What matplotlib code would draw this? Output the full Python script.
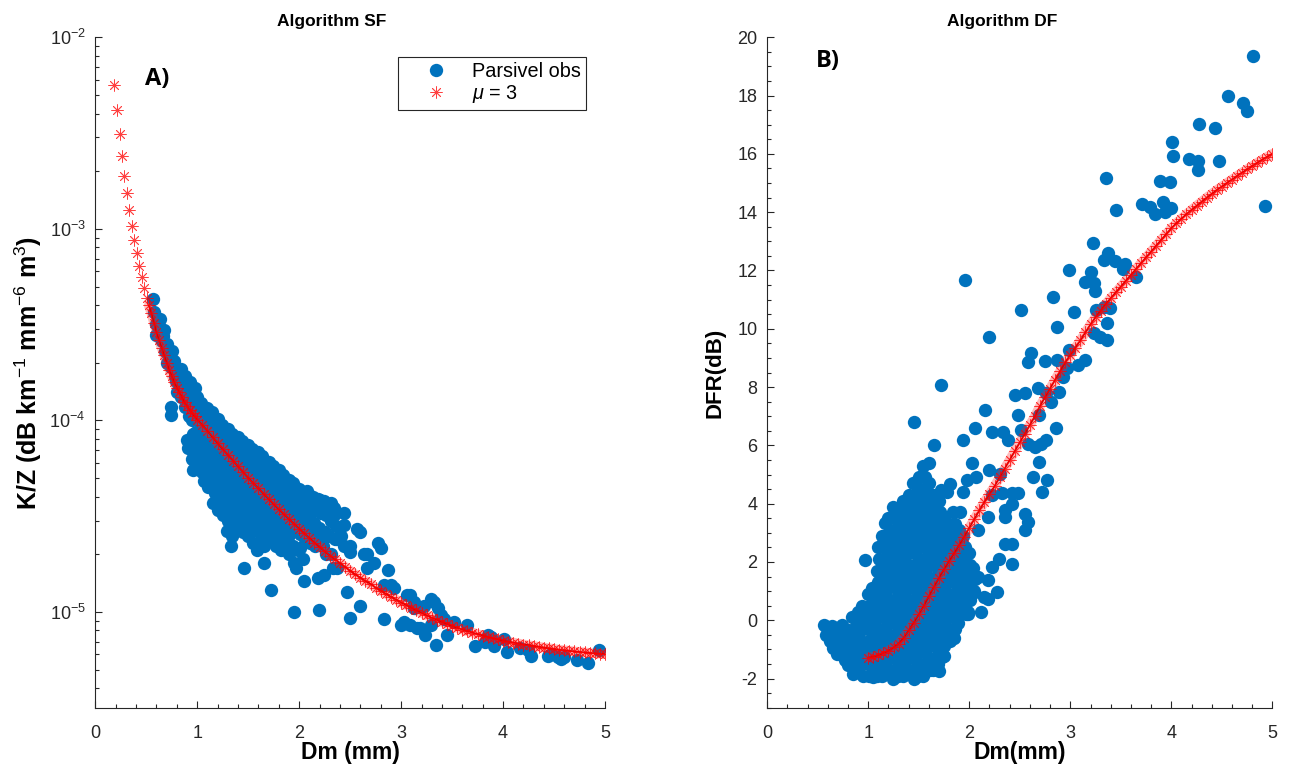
import numpy as np
import matplotlib
matplotlib.use("Agg")
import matplotlib.pyplot as plt
from matplotlib.ticker import MultipleLocator, LogLocator

# ---------------- Algorithm SF (left) ----------------
# Parsivel observations: Dm (mm) and K/Z read in units of 1e-5 dB km-1 mm-6 m3
sf_obs_dm = [
    0.57, 0.58, 0.60, 0.60, 0.63, 0.65, 0.67, 0.68, 0.70, 0.70, 0.72, 0.74, 0.75, 0.77, 0.78, 0.80, 0.80, 0.82,
    0.84, 0.84, 0.85, 0.87, 0.88, 0.88, 0.90, 0.92, 0.92, 0.93, 0.95, 0.97, 0.98, 1.00, 1.00, 0.74, 0.74,
    0.62, 0.66, 0.71, 0.76, 0.79, 0.83, 0.86, 0.91, 0.94, 0.96, 0.99,
    0.95, 0.96, 0.94, 0.95, 0.96, 0.90, 0.91,
    1.00, 1.01, 0.99, 1.00, 1.01, 0.99,
    1.04, 1.06, 1.05, 1.03, 1.06, 1.04, 1.05, 1.07,
    1.10, 1.11, 1.09, 1.10, 1.11, 1.09, 1.10, 1.11,
    1.14, 1.16, 1.15, 1.13, 1.16, 1.14, 1.15, 1.17, 1.15,
    1.20, 1.21, 1.19, 1.20, 1.21, 1.19, 1.20, 1.21, 1.20,
    1.24, 1.26, 1.25, 1.23, 1.26, 1.24, 1.25, 1.27, 1.25,
    1.30, 1.31, 1.29, 1.30, 1.31, 1.29, 1.30, 1.31, 1.30, 1.29,
    1.34, 1.36, 1.35, 1.33, 1.36, 1.34, 1.35, 1.37, 1.35, 1.34,
    1.40, 1.41, 1.39, 1.40, 1.41, 1.39, 1.40, 1.41, 1.40,
    1.44, 1.46, 1.45, 1.43, 1.46, 1.44, 1.45, 1.47, 1.45,
    1.50, 1.51, 1.49, 1.50, 1.51, 1.49, 1.50, 1.51, 1.50,
    1.54, 1.56, 1.55, 1.53, 1.56, 1.54, 1.55, 1.57, 1.55,
    1.60, 1.61, 1.59, 1.60, 1.61, 1.59, 1.60, 1.61, 1.60,
    1.64, 1.66, 1.65, 1.63, 1.66, 1.64, 1.65, 1.67, 1.65,
    1.70, 1.71, 1.69, 1.70, 1.71, 1.69, 1.70, 1.71,
    1.74, 1.76, 1.75, 1.73, 1.76, 1.74, 1.75, 1.77,
    1.80, 1.81, 1.79, 1.80, 1.81, 1.79, 1.80,
    1.84, 1.86, 1.85, 1.83, 1.86, 1.84, 1.85,
    1.90, 1.91, 1.89, 1.90, 1.91, 1.89, 1.90,
    1.94, 1.96, 1.95, 1.93, 1.96, 1.94, 1.95,
    2.00, 2.01, 1.99, 2.00, 2.01, 1.99,
    2.04, 2.06, 2.05, 2.03, 2.06, 2.04,
    2.10, 2.11, 2.09, 2.10, 2.11,
    2.14, 2.16, 2.15, 2.13, 2.16,
    2.20, 2.21, 2.19, 2.20,
    2.24, 2.26, 2.25, 2.23, 2.26,
    2.30, 2.31, 2.29,
    2.34, 2.36, 2.35, 2.33,
    1.33, 1.46, 1.59, 1.65, 1.72, 1.82, 1.95, 1.97, 2.05, 2.18, 2.24, 2.19, 2.50, 2.83, 2.60,
    2.08, 2.18, 2.31, 2.44, 2.44, 2.57, 2.60, 2.77, 2.80, 2.41, 2.50, 2.67, 2.73, 2.87, 2.47, 2.93, 3.09,
    3.00, 3.16, 3.32, 3.36, 3.39, 3.23, 3.34, 3.45, 3.52, 3.65, 3.72, 3.85, 3.91, 4.01, 4.04, 4.24, 4.27,
    4.47, 4.60, 4.73, 4.83, 4.94, 2.01, 2.34, 2.67, 3.13, 2.31, 2.37, 2.37, 2.44, 2.50, 2.64, 2.90, 3.06,
    3.13, 3.22, 3.29, 3.42, 3.29, 3.19, 3.09, 3.03, 3.82, 3.88, 4.17, 4.44, 4.54, 4.57, 2.24, 2.83,
]
sf_obs_kz = [
    43, 37, 32, 28, 34, 26, 29.5, 23, 25, 20, 21, 19, 23, 20.4, 17, 18.2, 14.1, 15.1,
    18.6, 13.2, 16.6, 14.1, 17.0, 11.7, 15.1, 13.2, 10.5, 15.8, 14.1, 12.0, 14.8, 13.2, 11.0, 11.7, 10.7,
    31, 27.5, 23, 20, 16, 16.5, 15.2, 14.2, 12.5, 13.0, 12.0,
    10.0, 8.5, 7.4, 6.3, 5.5, 7.9, 7.2,
    11.5, 10.0, 8.7, 7.6, 6.6, 5.8,
    12.3, 10.7, 9.3, 8.1, 7.1, 6.2, 5.4, 4.8,
    11.6, 10.1, 8.8, 7.6, 6.6, 5.8, 5.1, 4.5,
    11.0, 9.5, 8.3, 7.2, 6.3, 5.5, 4.8, 4.2, 3.7,
    10.2, 8.9, 7.7, 6.7, 5.9, 5.1, 4.5, 3.9, 3.4,
    9.5, 8.3, 7.2, 6.3, 5.5, 4.8, 4.2, 3.6, 3.2,
    9.0, 7.9, 6.9, 6.0, 5.2, 4.6, 4.0, 3.4, 3.0, 2.65,
    8.5, 7.4, 6.5, 5.6, 4.9, 4.3, 3.7, 3.2, 2.8, 2.5,
    8.2, 7.1, 6.2, 5.4, 4.7, 4.1, 3.6, 3.2, 2.8,
    7.8, 6.8, 5.9, 5.1, 4.5, 3.9, 3.4, 3.0, 2.6,
    7.4, 6.5, 5.7, 4.9, 4.3, 3.7, 3.3, 2.9, 2.5,
    7.1, 6.2, 5.4, 4.7, 4.1, 3.5, 3.1, 2.7, 2.3,
    6.8, 5.9, 5.2, 4.5, 3.9, 3.4, 3.0, 2.6, 2.3,
    6.5, 5.6, 4.9, 4.3, 3.7, 3.2, 2.8, 2.5, 2.2,
    6.1, 5.3, 4.6, 4.0, 3.5, 3.0, 2.65, 2.35,
    5.8, 5.0, 4.4, 3.8, 3.3, 2.9, 2.5, 2.2,
    5.5, 4.8, 4.2, 3.65, 3.2, 2.75, 2.4,
    5.2, 4.6, 4.0, 3.5, 3.0, 2.6, 2.3,
    4.9, 4.3, 3.8, 3.3, 2.9, 2.45, 2.0,
    4.7, 4.1, 3.5, 3.1, 2.7, 2.2, 1.8,
    4.4, 3.9, 3.4, 2.95, 2.55, 2.1,
    4.2, 3.6, 3.2, 2.75, 2.4, 1.9,
    4.1, 3.5, 3.05, 2.65, 2.3,
    4.0, 3.4, 2.9, 2.5, 2.2,
    3.85, 3.3, 2.75, 2.35,
    3.7, 3.2, 2.6, 2.2, 2.0,
    3.6, 3.0, 2.5,
    3.5, 2.8, 2.4, 1.7,
    2.2, 1.7, 2.1, 1.8, 1.3, 2.1, 1.0, 1.7, 1.45, 1.5, 1.55, 1.02, 0.93, 0.92, 1.08,
    4.3, 3.9, 3.7, 3.3, 2.85, 2.7, 2.6, 2.3, 2.15, 2.5, 2.2, 2.0, 1.8, 1.65, 1.27, 1.33, 1.22,
    0.85, 0.82, 1.13, 1.05, 0.96, 0.76, 0.67, 0.76, 0.89, 0.85, 0.66, 0.76, 0.66, 0.72, 0.62, 0.63, 0.59,
    0.60, 0.58, 0.56, 0.54, 0.63, 2.15, 3.2, 1.7, 1.05, 2.0, 1.7, 2.4, 2.2, 2.05, 2.0, 1.38, 1.22,
    1.13, 1.08, 1.17, 0.92, 0.85, 0.82, 0.85, 0.89, 0.70, 0.74, 0.65, 0.59, 0.58, 0.57, 3.8, 1.38,
]

# mu = 3 model curve (K/Z in units of 1e-5)
sf_mu3_dm = [
    0.183, 0.216, 0.242, 0.262, 0.284, 0.311, 0.333, 0.360, 0.379, 0.409, 0.431, 0.455, 0.477, 0.504,
    0.525, 0.55, 0.575, 0.60, 0.625, 0.65, 0.675, 0.70, 0.725, 0.75, 0.775, 0.80, 0.825, 0.85, 0.875,
    0.90, 0.925, 0.95, 0.975, 1.00,
    1.05, 1.10, 1.15, 1.20, 1.25, 1.30, 1.35, 1.40, 1.45, 1.50, 1.55, 1.60, 1.65, 1.70, 1.75, 1.80,
    1.85, 1.90, 1.95, 2.00, 2.05, 2.10, 2.15, 2.20, 2.25, 2.30, 2.35, 2.40, 2.45, 2.50, 2.55, 2.60,
    2.65, 2.70, 2.75, 2.80, 2.85, 2.90, 2.95, 3.00, 3.05, 3.10, 3.15, 3.20, 3.25, 3.30, 3.35, 3.40,
    3.45, 3.50, 3.55, 3.60, 3.65, 3.70, 3.75, 3.80, 3.85, 3.90, 3.95, 4.00, 4.05, 4.10, 4.15, 4.20,
    4.25, 4.30, 4.35, 4.40, 4.45, 4.50, 4.55, 4.60, 4.65, 4.70, 4.75, 4.80, 4.85, 4.90, 4.95, 5.00,
]
sf_mu3_kz = [
    564, 417, 313, 240, 189, 154, 126, 103.5, 87.5, 74.8, 64.1, 56.0, 49.1, 43.6,
    39.8, 36.3, 32.4, 28.8, 26.3, 24.0, 21.9, 20.0, 18.4, 17.0, 15.8, 14.8, 14.0, 13.2, 12.4,
    11.9, 11.35, 10.9, 10.5, 10.1,
    9.44, 8.81, 8.17, 7.59, 7.08, 6.61, 6.17, 5.75, 5.37, 5.01, 4.70, 4.42, 4.14, 3.89, 3.65, 3.43,
    3.24, 3.05, 2.88, 2.72, 2.57, 2.43, 2.30, 2.19, 2.07, 1.97, 1.88, 1.80, 1.72, 1.64, 1.57, 1.51,
    1.45, 1.40, 1.34, 1.29, 1.245, 1.20, 1.16, 1.12, 1.086, 1.052, 1.019, 0.989, 0.959, 0.933, 0.910, 0.887,
    0.865, 0.845, 0.826, 0.809, 0.794, 0.780, 0.766, 0.753, 0.741, 0.730, 0.718, 0.708, 0.700, 0.692, 0.684, 0.676,
    0.670, 0.664, 0.658, 0.652, 0.646, 0.641, 0.635, 0.631, 0.627, 0.622, 0.618, 0.615, 0.611, 0.608, 0.605, 0.603,
]

# ---------------- Algorithm DF (right) ----------------
df_obs_dm = [
    0.56, 0.58,
    0.61, 0.62,
    0.64, 0.66, 0.65,
    0.70, 0.71, 0.69,
    0.74, 0.76, 0.75, 0.77,
    0.80, 0.81, 0.79, 0.80,
    0.84, 0.86, 0.85, 0.83, 0.86, 0.85,
    0.90, 0.91, 0.89, 0.90, 0.91, 0.89,
    0.94, 0.96, 0.95, 0.93, 0.96, 0.94, 0.95,
    1.00, 1.01, 0.99, 1.00, 1.01, 0.99, 1.00, 1.01,
    1.04, 1.06, 1.05, 1.03, 1.06, 1.04, 1.05, 1.07, 1.05,
    1.10, 1.11, 1.09, 1.10, 1.11, 1.09, 1.10, 1.11, 1.09, 1.10, 1.11, 1.09,
    1.14, 1.16, 1.15, 1.13, 1.16, 1.14, 1.15, 1.17, 1.15, 1.14, 1.16, 1.15, 1.14,
    1.20, 1.21, 1.19, 1.20, 1.21, 1.19, 1.20, 1.21, 1.19, 1.20, 1.21, 1.19, 1.20, 1.21,
    1.24, 1.26, 1.25, 1.23, 1.26, 1.24, 1.25, 1.27, 1.25, 1.24, 1.26, 1.25, 1.23, 1.26, 1.25, 1.24,
    1.30, 1.31, 1.29, 1.30, 1.31, 1.29, 1.30, 1.31, 1.29, 1.30, 1.31, 1.29, 1.30, 1.31, 1.29,
    1.34, 1.36, 1.35, 1.33, 1.36, 1.34, 1.35, 1.37, 1.35, 1.34, 1.36, 1.35, 1.33, 1.36, 1.35, 1.34,
    1.40, 1.41, 1.39, 1.40, 1.41, 1.39, 1.40, 1.41, 1.39, 1.40, 1.41, 1.39, 1.40, 1.41, 1.39, 1.40,
    1.44, 1.46, 1.45, 1.43, 1.46, 1.44, 1.45, 1.47, 1.45, 1.44, 1.46, 1.45, 1.43, 1.46, 1.45, 1.44, 1.46, 1.45,
    1.50, 1.51, 1.49, 1.50, 1.51, 1.49, 1.50, 1.51, 1.49, 1.50, 1.51, 1.49, 1.50, 1.51, 1.49, 1.50, 1.51, 1.49,
    1.54, 1.56, 1.55, 1.53, 1.56, 1.54, 1.55, 1.57, 1.55, 1.54, 1.56, 1.55, 1.53, 1.56, 1.55, 1.54, 1.56, 1.55, 1.54,
    1.60, 1.61, 1.59, 1.60, 1.61, 1.59, 1.60, 1.61, 1.59, 1.60, 1.61, 1.59, 1.60, 1.61, 1.59, 1.60, 1.61,
    1.64, 1.66, 1.65, 1.63, 1.66, 1.64, 1.65, 1.67, 1.65, 1.64, 1.66, 1.65, 1.63, 1.66, 1.65, 1.64,
    1.70, 1.71, 1.69, 1.70, 1.71, 1.69, 1.70, 1.71, 1.69, 1.70, 1.71, 1.69, 1.70, 1.71, 1.69,
    1.74, 1.76, 1.75, 1.73, 1.76, 1.74, 1.75, 1.77, 1.75, 1.74, 1.76, 1.75, 1.73,
    1.80, 1.81, 1.79, 1.80, 1.81, 1.79, 1.80, 1.81, 1.79, 1.80, 1.81,
    1.84, 1.86, 1.85, 1.83, 1.86, 1.84, 1.85, 1.87, 1.85, 1.84, 1.86, 1.85,
    1.90, 1.91, 1.89, 1.90, 1.91, 1.89, 1.90, 1.91, 1.89,
    1.94, 1.96, 1.95, 1.93, 1.96, 1.94, 1.95, 1.97,
    2.00, 2.01, 1.99, 2.00, 2.01, 1.99,
    2.04, 2.06, 2.05,
    0.97, 1.17, 1.70, 1.75, 1.99, 2.12, 2.19, 2.27, 2.15, 2.03, 2.09, 2.19, 2.22, 2.29, 2.42, 2.42,
    2.35, 2.19, 2.35, 2.35, 2.42, 2.55, 2.55, 2.58, 2.09, 1.91, 2.32, 2.42, 2.48, 2.22, 2.07, 2.20,
    2.30, 1.94, 2.03, 1.98, 1.72, 1.81, 1.78, 1.60, 1.65, 1.45, 1.72, 1.94, 2.06, 2.16, 2.22, 2.33,
    2.38, 2.45, 2.55, 2.68, 2.69, 2.81, 2.89, 2.86, 2.76, 2.65, 2.69, 2.63, 2.77, 2.72, 2.48, 2.51,
    2.58, 2.71, 2.58, 2.61, 2.93, 2.20, 1.96, 2.51, 3.35, 3.45, 3.22, 2.99, 3.37, 3.33, 3.44, 3.54,
    3.52, 3.65, 3.20, 3.15, 3.23, 3.24, 2.83, 3.04, 2.87, 3.25, 3.33, 3.39, 3.36, 3.36, 3.23, 3.29,
    2.99, 2.75, 2.87, 2.97, 3.15, 3.08, 3.71, 3.79, 3.84, 3.92, 3.94, 4.00, 3.89, 3.99, 4.01, 4.02,
    4.18, 4.26, 4.26, 4.27, 4.43, 4.47, 4.56, 4.71, 4.75, 4.81, 4.93, 2.76,
]
df_obs_dfr = [
    -0.15, -0.5,
    -0.35, -0.7,
    -0.2, -0.6, -0.95,
    -0.4, -0.8, -1.15,
    -0.15, -0.55, -0.95, -1.35,
    -0.35, -0.75, -1.15, -1.55,
    0.1, -0.3, -0.7, -1.1, -1.5, -1.85,
    0.3, -0.1, -0.5, -0.9, -1.3, -1.7,
    0.5, 0.1, -0.3, -0.7, -1.1, -1.5, -1.9,
    0.9, 0.5, 0.1, -0.3, -0.7, -1.1, -1.5, -1.9,
    1.1, 0.7, 0.3, -0.1, -0.5, -0.9, -1.3, -1.7, -1.95,
    2.5, 2.1, 1.7, 1.3, 0.9, 0.5, 0.1, -0.3, -0.7, -1.1, -1.5, -1.9,
    2.9, 2.5, 2.1, 1.7, 1.3, 0.9, 0.5, 0.1, -0.3, -0.7, -1.1, -1.5, -1.9,
    3.5, 3.1, 2.7, 2.3, 1.9, 1.5, 1.1, 0.7, 0.3, -0.1, -0.5, -0.9, -1.3, -1.7,
    3.9, 3.5, 3.1, 2.7, 2.3, 1.9, 1.5, 1.1, 0.7, 0.3, -0.1, -0.5, -0.9, -1.3, -1.7, -2.0,
    3.7, 3.3, 2.9, 2.5, 2.1, 1.7, 1.3, 0.9, 0.5, 0.1, -0.3, -0.7, -1.1, -1.5, -1.9,
    4.1, 3.7, 3.3, 2.9, 2.5, 2.1, 1.7, 1.3, 0.9, 0.5, 0.1, -0.3, -0.7, -1.1, -1.5, -1.9,
    4.3, 3.9, 3.5, 3.1, 2.7, 2.3, 1.9, 1.5, 1.1, 0.7, 0.3, -0.1, -0.5, -0.9, -1.3, -1.7,
    4.7, 4.3, 3.9, 3.5, 3.1, 2.7, 2.3, 1.9, 1.5, 1.1, 0.7, 0.3, -0.1, -0.5, -0.9, -1.3, -1.7, -2.0,
    4.9, 4.5, 4.1, 3.7, 3.3, 2.9, 2.5, 2.1, 1.7, 1.3, 0.9, 0.5, 0.1, -0.3, -0.7, -1.1, -1.5, -1.9,
    5.3, 4.9, 4.5, 4.1, 3.7, 3.3, 2.9, 2.5, 2.1, 1.7, 1.3, 0.9, 0.5, 0.1, -0.3, -0.7, -1.1, -1.5, -1.9,
    4.7, 4.3, 3.9, 3.5, 3.1, 2.7, 2.3, 1.9, 1.5, 1.1, 0.7, 0.3, -0.1, -0.5, -0.9, -1.3, -1.7,
    4.3, 3.9, 3.5, 3.1, 2.7, 2.3, 1.9, 1.5, 1.1, 0.7, 0.3, -0.1, -0.5, -0.9, -1.3, -1.7,
    4.1, 3.7, 3.3, 2.9, 2.5, 2.1, 1.7, 1.3, 0.9, 0.5, 0.1, -0.3, -0.7, -1.1, -1.5,
    3.5, 3.1, 2.7, 2.3, 1.9, 1.5, 1.1, 0.7, 0.3, -0.1, -0.5, -0.9, -1.25,
    3.3, 2.9, 2.5, 2.1, 1.7, 1.3, 0.9, 0.5, 0.1, -0.3, -0.7,
    3.7, 3.3, 2.9, 2.5, 2.1, 1.7, 1.3, 0.9, 0.5, 0.1, -0.3, -0.6,
    3.1, 2.7, 2.3, 1.9, 1.5, 1.1, 0.7, 0.3, -0.1,
    2.9, 2.5, 2.1, 1.7, 1.3, 0.9, 0.5, 0.2,
    2.3, 1.9, 1.5, 1.1, 0.7, 0.3,
    1.8, 1.4, 1.0,
    2.06, 3.35, -1.75, -1.21, 0.22, 0.28, 0.74, 0.97, 0.80, 0.91, 1.48, 1.37, 1.83, 2.11, 1.94, 2.63,
    2.63, 3.55, 3.55, 3.77, 4.00, 3.66, 3.09, 3.37, 3.09, 3.72, 4.35, 4.35, 4.35, 4.29, 4.92, 5.15,
    5.03, 4.40, 5.38, 4.80, 4.46, 4.69, 4.40, 5.38, 6.01, 6.81, 8.07, 6.18, 6.58, 7.21, 6.47, 6.47,
    6.18, 7.73, 7.79, 7.96, 7.04, 7.50, 7.84, 6.58, 6.18, 5.95, 5.43, 4.92, 4.80, 4.40, 7.04, 6.52,
    6.06, 6.06, 8.87, 9.18, 8.36, 9.71, 11.68, 10.65, 15.16, 14.08, 12.94, 12.02, 12.59, 12.36, 12.31, 12.23,
    12.04, 11.79, 11.96, 11.62, 11.56, 11.28, 11.08, 10.59, 10.07, 10.65, 10.76, 10.70, 10.19, 9.62, 9.84, 9.73,
    9.27, 8.90, 8.93, 8.64, 8.93, 8.75, 14.27, 14.18, 13.95, 14.35, 14.01, 14.16, 15.06, 15.04, 16.41, 15.93,
    15.84, 15.76, 15.46, 17.02, 16.90, 15.76, 18.00, 17.73, 17.46, 19.35, 14.20, 7.78,
]

df_mu3_dm = [
    1.00, 1.05, 1.10, 1.15, 1.20, 1.25, 1.30, 1.35, 1.40, 1.45, 1.50, 1.55, 1.60, 1.65, 1.70, 1.75,
    1.80, 1.85, 1.90, 1.95, 2.00, 2.05, 2.10, 2.15, 2.20, 2.25, 2.30, 2.35, 2.40, 2.45, 2.50, 2.55,
    2.60, 2.65, 2.70, 2.75, 2.80, 2.85, 2.90, 2.95, 3.00, 3.05, 3.10, 3.15, 3.20, 3.25, 3.30, 3.35,
    3.40, 3.45, 3.50, 3.55, 3.60, 3.65, 3.70, 3.75, 3.80, 3.85, 3.90, 3.95, 4.00, 4.05, 4.10, 4.15,
    4.20, 4.25, 4.30, 4.35, 4.40, 4.45, 4.50, 4.55, 4.60, 4.65, 4.70, 4.75, 4.80, 4.85, 4.90, 4.95, 5.00,
]
df_mu3_dfr = [
    -1.28, -1.25, -1.20, -1.12, -1.05, -0.93, -0.80, -0.60, -0.35, -0.08, 0.20, 0.50, 0.82, 1.15, 1.45, 1.75,
    2.03, 2.30, 2.58, 2.87, 3.17, 3.47, 3.77, 4.06, 4.33, 4.60, 4.90, 5.20, 5.50, 5.80, 6.10, 6.40,
    6.70, 7.00, 7.35, 7.65, 7.95, 8.25, 8.55, 8.85, 9.10, 9.35, 9.60, 9.88, 10.15, 10.40, 10.62, 10.85,
    11.05, 11.25, 11.45, 11.65, 11.85, 12.05, 12.25, 12.45, 12.65, 12.85, 13.05, 13.25, 13.45, 13.62, 13.78, 13.93,
    14.08, 14.22, 14.36, 14.50, 14.63, 14.76, 14.88, 15.00, 15.12, 15.24, 15.36, 15.47, 15.58, 15.69, 15.80, 15.90, 16.00,
]

blue = '#0072BD'
axis_col = '#262626'
asterisk = (8, 2, 0)

plt.rcParams['font.family'] = ['Liberation Sans', 'DejaVu Sans']
plt.rcParams['axes.unicode_minus'] = False
plt.rcParams['mathtext.fontset'] = 'custom'
plt.rcParams['mathtext.rm'] = 'Liberation Sans'
plt.rcParams['mathtext.it'] = 'Liberation Sans:italic'
plt.rcParams['mathtext.bf'] = 'Liberation Sans:bold'

fig = plt.figure(figsize=(12.93, 7.72), dpi=100)
ax1 = fig.add_axes([95.3 / 1293, 1 - 707.7 / 772, 509.7 / 1293, 670.4 / 772])
ax2 = fig.add_axes([767.3 / 1293, 1 - 707.7 / 772, 505 / 1293, 670.4 / 772])

sf_obs = np.array(sf_obs_kz) * 1e-5
sf_mu3 = np.array(sf_mu3_kz) * 1e-5


def draw_model(ax, x, y, label=None, band_from=0):
    # dense asterisks in the original merge into a hatched ribbon with a dark core
    ax.plot(x[band_from:], y[band_from:], '-', color='#ff2020', lw=7, alpha=0.3, solid_capstyle='round')
    ax.plot(x[band_from:], y[band_from:], '-', color='#d00000', lw=1.2)
    ax.plot(x, y, ls='none', marker=asterisk, ms=8.6, mew=0.6, color='#ff0000', alpha=0.75, label=label)


# left panel
ax1.plot(sf_obs_dm, sf_obs, ls='none', marker='o', ms=9.6, mew=0, color=blue, label='Parsivel obs')
draw_model(ax1, sf_mu3_dm, sf_mu3, label=r'$\mu$ = 3', band_from=14)
ax1.set_yscale('log')
ax1.set_xlim(0, 5)
ax1.set_ylim(10 ** -5.5, 1e-2)
ax1.yaxis.set_major_locator(LogLocator(base=10))
ax1.yaxis.set_minor_locator(LogLocator(base=10, subs=np.arange(2, 10)))
ax1.set_title('Algorithm SF', fontweight='bold', fontsize=12.5, x=0.463, pad=8)
ax1.set_xlabel('Dm (mm)', fontweight='bold', fontsize=16.5)
ax1.set_ylabel(r'K/Z (dB km$^{-1}$ mm$^{-6}$ m$^{3}$)', fontweight='bold', fontsize=18)
ax1.text(0.1205, 0.938, 'A)', transform=ax1.transAxes, fontsize=17, fontweight='bold',
         family='Open Sans', ha='center', va='center')

leg = ax1.legend(loc='upper right', bbox_to_anchor=(0.963, 0.97), fontsize=14.3, fancybox=False,
                 edgecolor=axis_col, framealpha=1, borderpad=0.25, handlelength=3.3,
                 handletextpad=0.2, labelspacing=0.1, borderaxespad=0)
leg.get_frame().set_linewidth(0.8)

# right panel
ax2.plot(df_obs_dm, df_obs_dfr, ls='none', marker='o', ms=9.6, mew=0, color=blue)
draw_model(ax2, df_mu3_dm, df_mu3_dfr)
ax2.set_xlim(0, 5)
ax2.set_ylim(-3, 20)
ax2.yaxis.set_major_locator(MultipleLocator(2))
ax2.yaxis.set_minor_locator(MultipleLocator(0.5))
ax2.set_title('Algorithm DF', fontweight='bold', fontsize=12.5, x=0.465, pad=8)
ax2.set_xlabel('Dm(mm)', fontweight='bold', fontsize=16.5)
ax2.set_ylabel('DFR(dB)', fontweight='bold', fontsize=16)
ax2.text(0.120, 0.965, 'B)', transform=ax2.transAxes, fontsize=17, fontweight='bold',
         family='Open Sans', ha='center', va='center')

for ax in (ax1, ax2):
    ax.xaxis.set_major_locator(MultipleLocator(1))
    ax.xaxis.set_minor_locator(MultipleLocator(0.2))
    ax.spines['top'].set_visible(False)
    ax.spines['right'].set_visible(False)
    for s in ('left', 'bottom'):
        ax.spines[s].set_color(axis_col)
        ax.spines[s].set_linewidth(0.8)
    ax.tick_params(which='both', direction='in', colors=axis_col, labelcolor='#262626', width=0.8)
    ax.tick_params(which='major', length=5, labelsize=13)
    ax.tick_params(which='minor', length=3)
    ax.tick_params(axis='x', which='major', pad=12.5)
    ax.tick_params(axis='y', which='major', pad=7)
    ax.xaxis.set_label_coords(0.5, -0.05)

ax1.yaxis.set_label_coords(-0.100, 0.5)
ax2.yaxis.set_label_coords(-0.082, 0.5)

fig.savefig('out.png', dpi=100)
